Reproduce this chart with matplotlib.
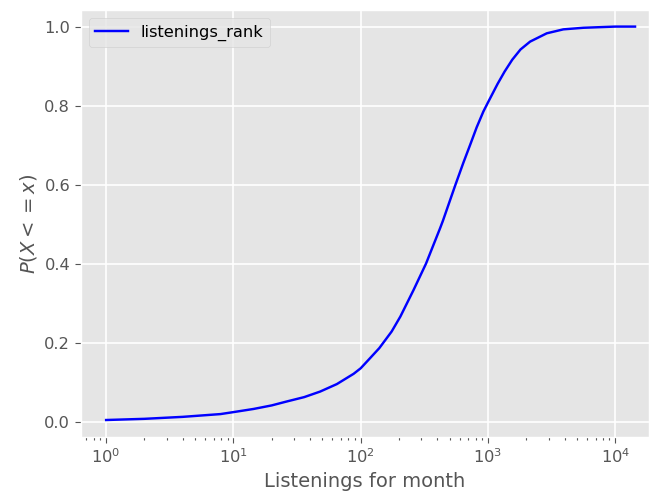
import matplotlib
matplotlib.use("Agg")
import matplotlib.pyplot as plt
from matplotlib.ticker import LogLocator, NullFormatter

plt.style.use("ggplot")

# Empirical CDF of monthly listenings
listenings = [1, 2, 4, 7.9, 10, 14.4, 20, 26.3, 36, 48, 65, 88, 100, 118,
              140, 175, 205, 260, 326, 421, 442, 550, 640, 723, 815, 920,
              1000, 1190, 1350, 1550, 1800, 2143, 2897, 3910, 5620, 10000,
              14300]
cdf = [0.004, 0.007, 0.012, 0.019, 0.024, 0.032, 0.041, 0.051, 0.062,
       0.076, 0.095, 0.121, 0.135, 0.160, 0.186, 0.228, 0.266, 0.333,
       0.400, 0.490, 0.508, 0.596, 0.655, 0.700, 0.745, 0.785, 0.808,
       0.855, 0.886, 0.916, 0.942, 0.962, 0.983, 0.993, 0.997, 1.0, 1.0]

fig = plt.figure(figsize=(6.49, 5.0), dpi=100)
ax = fig.add_axes([0.1245, 0.126, 0.8755, 0.854])

ax.plot(listenings, cdf, color="blue", linewidth=1.75, label="listenings_rank")
ax.set_xscale("log")
ax.set_xlim(10 ** -0.199, 10 ** 4.265)
ax.set_ylim(-0.039, 1.042)
ax.xaxis.set_minor_locator(LogLocator(base=10, subs=range(2, 10), numticks=20))
ax.xaxis.set_minor_formatter(NullFormatter())

ax.set_xlabel("Listenings for month", fontsize=14, color="#555555")
ax.set_ylabel("$P(X <= x)$", fontsize=14, color="#555555")
ax.tick_params(axis="both", which="major", labelsize=11.7, colors="#555555",
               length=4.1)
ax.tick_params(axis="x", which="minor", color="#555555", length=2.4,
               width=0.8)
ax.grid(True, which="major", color="white", linewidth=1.2)
ax.legend(loc="upper left", fontsize=11.7)

fig.savefig("out.png", dpi=100)
